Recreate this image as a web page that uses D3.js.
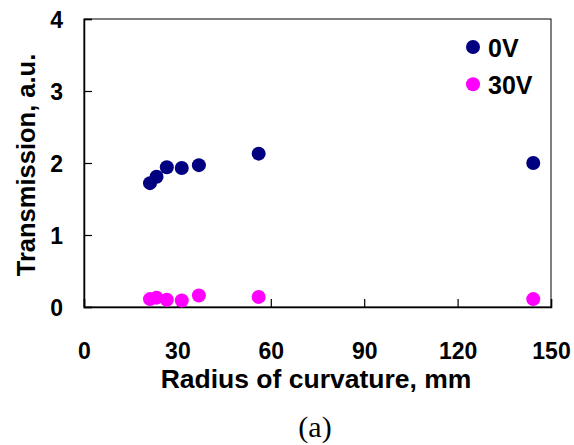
<!DOCTYPE html>
<html>
<head>
<meta charset="utf-8">
<script src="https://cdn.jsdelivr.net/npm/d3@7"></script>
<style>
  body { margin: 0; background: #fff; }
  svg { display: block; }
  text { font-family: "Liberation Sans", Arial, sans-serif; font-weight: bold; fill: #000; }
</style>
</head>
<body>
<svg id="chart" width="574" height="445"></svg>
<script>
// radius of curvature (mm) for each sample
const radius = [21.2, 23.3, 26.6, 31.4, 36.9, 56.1, 144.3];
// transmission at 0 V and 30 V
const trans0V = [1.72, 1.81, 1.94, 1.93, 1.97, 2.13, 2.00];
const trans30V = [0.11, 0.13, 0.10, 0.09, 0.16, 0.14, 0.11];
const xTicks = [0, 30, 60, 90, 120, 150];
const yTicks = [0, 1, 2, 3, 4];
const seriesNames = ['0V', '30V'];
const seriesColors = ['#000080', '#ff00ff'];

const svg = d3.select('#chart');
const margin = {left: 84, top: 19, right: 23, bottom: 138};
const width = 574 - margin.left - margin.right;
const height = 445 - margin.top - margin.bottom;

const x = d3.scaleLinear().domain([0, 150]).range([0, width]);
const y = d3.scaleLinear().domain([0, 4]).range([height, 0]);

const g = svg.append('g')
  .attr('transform', `translate(${margin.left},${margin.top})`);

// frame
g.append('rect')
  .attr('width', width)
  .attr('height', height)
  .attr('fill', 'none')
  .attr('stroke', '#000')
  .attr('stroke-width', 1);

const xAxis = g.append('g')
  .attr('transform', `translate(0,${height})`)
  .call(d3.axisBottom(x).tickValues(xTicks).tickFormat(d3.format('d'))
    .tickSize(-8).tickPadding(36));

const yAxis = g.append('g')
  .call(d3.axisLeft(y).tickValues(yTicks).tickFormat(d3.format('d'))
    .tickSize(-8).tickPadding(21));

[xAxis, yAxis].forEach((a) => {
  a.select('.domain').attr('stroke', '#000').attr('stroke-width', 1.5);
  a.selectAll('.tick line').attr('stroke', '#000').attr('stroke-width', 1.2);
  a.selectAll('.tick text')
    .attr('fill', '#000')
    .style('font-family', '"Liberation Sans", Arial, sans-serif')
    .style('font-weight', 'bold')
    .style('font-size', '23px');
});
yAxis.selectAll('.tick text').attr('dy', '0.38em');

// axis titles
svg.append('text')
  .attr('x', 316)
  .attr('y', 388)
  .attr('text-anchor', 'middle')
  .style('font-size', '26.5px')
  .text('Radius of curvature, mm');

svg.append('text')
  .attr('transform', 'translate(35,165) rotate(-90)')
  .attr('text-anchor', 'middle')
  .style('font-size', '25.5px')
  .text('Transmission, a.u.');

// caption
svg.append('text')
  .attr('x', 315)
  .attr('y', 437)
  .attr('text-anchor', 'middle')
  .style('font-family', '"Liberation Serif", "Times New Roman", serif')
  .style('font-weight', 'normal')
  .style('font-size', '30px')
  .text('(a)');

// points
const series = [trans0V, trans30V];
series.forEach((vals, i) => {
  g.append('g')
    .selectAll('circle')
    .data(vals)
    .enter()
    .append('circle')
    .attr('cx', (d, j) => x(radius[j]))
    .attr('cy', (d) => y(d))
    .attr('r', 7)
    .attr('fill', seriesColors[i]);
});

// legend
const legend = svg.append('g')
  .attr('transform', 'translate(473,47)');

const item = legend.selectAll('g')
  .data(seriesNames)
  .enter()
  .append('g')
  .attr('transform', (d, i) => `translate(0,${i * 37.3})`);

item.append('circle')
  .attr('r', 7)
  .attr('fill', (d, i) => seriesColors[i]);

item.append('text')
  .attr('x', 15)
  .attr('y', 9.5)
  .style('font-size', '25px')
  .text((d) => d);
</script>
</body>
</html>
